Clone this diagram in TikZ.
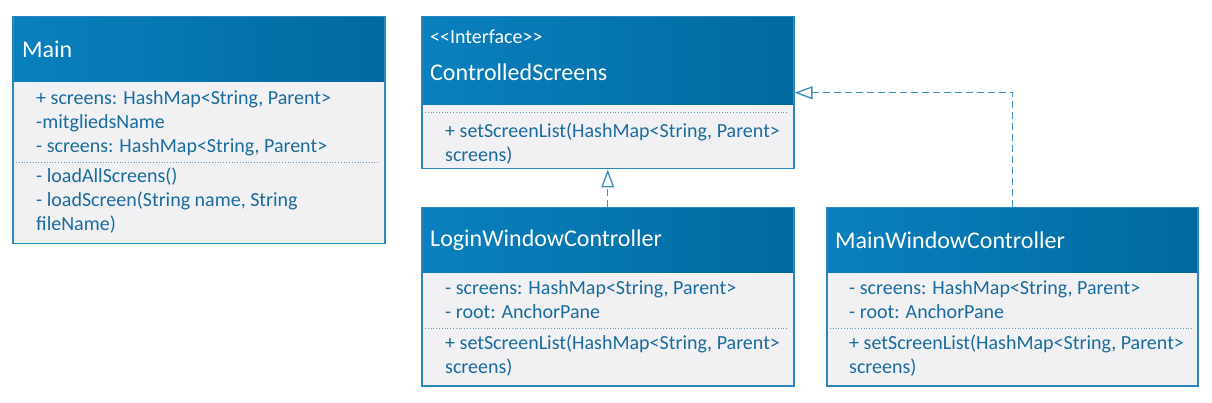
\documentclass[tikz,border=0pt]{standalone}
\usepackage{fontspec}
\setmainfont{Carlito}
\usetikzlibrary{arrows.meta}
\usetikzlibrary{positioning}

\definecolor{hdrlight}{HTML}{0A80BE}
\definecolor{hdrdark}{HTML}{006A9F}
\definecolor{clsborder}{HTML}{2A86BE}
\definecolor{bodygray}{HTML}{F1F1F3}
\definecolor{membertext}{HTML}{1A6C9E}
\definecolor{linkblue}{HTML}{3A92C4}

\tikzset{
  clsbox/.style={rectangle, draw=clsborder, line width=1.5pt, fill=bodygray,
    anchor=north west, inner sep=0pt,
    path picture={\shade[left color=hdrlight, right color=hdrdark]
      (path picture bounding box.north west) rectangle
      ([yshift=-#1pt]path picture bounding box.north east);}},
  clsname/.style={anchor=west, inner sep=0pt, text=white,
    font=\fontsize{24}{28}\selectfont},
  stereo/.style={anchor=west, inner sep=0pt, text=white,
    font=\fontsize{20}{24}\selectfont},
  members/.style={anchor=north west, inner sep=0pt, align=left, text=membertext,
    font=\fontsize{20}{24}\selectfont},
  sepline/.style={draw=membertext!70, line width=0.8pt, dotted},
  realize/.style={draw=linkblue, line width=1.4pt, dash pattern=on 7pt off 4pt,
    -{Triangle[open, length=18pt, width=13pt]}}
}

\begin{document}
\begin{tikzpicture}[x=1pt,y=1pt]
\useasboundingbox (0,0) rectangle (1212,-403);

% Main
\node[clsbox=65, minimum width=372, minimum height=227] (main) at (12,-16) {};
\node[clsname] (mainName) at (22,-49) {Main};
\node[members] (mainAttr) at (36,-90) {+ screens: HashMap<String, Parent>\\-mitgliedsName\\- screens: HashMap<String, Parent>};
\draw[sepline] (16,-162) -- (380,-162);
\node[members] (mainOps) at (36,-168) {- loadAllScreens()\\- loadScreen(String name, String\\fileName)};

% ControlledScreens
\node[clsbox=88, minimum width=372, minimum height=152] (cs) at (421,-16) {};
\node[stereo] (csStereo) at (430,-37) {<{}<Interface>{}>};
\node[clsname] (csName) at (430,-72) {ControlledScreens};
\draw[sepline] (425,-112) -- (789,-112);
\node[members] (csOps) at (445,-123) {+ setScreenList(HashMap<String, Parent>\\screens)};

% LoginWindowController
\node[clsbox=65, minimum width=372, minimum height=178] (login) at (421,-207) {};
\node[clsname] (loginName) at (430,-240) {LoginWindowController};
\node[members] (loginAttr) at (445,-280) {- screens: HashMap<String, Parent>\\- root: AnchorPane};
\draw[sepline] (425,-328) -- (789,-328);
\node[members] (loginOps) at (445,-335) {+ setScreenList(HashMap<String, Parent>\\screens)};

% MainWindowController
\node[clsbox=65, minimum width=371, minimum height=178] (mwc) at (826,-207) {};
\node[clsname] (mwcName) at (835,-240) {MainWindowController};
\node[members] (mwcAttr) at (849,-280) {- screens: HashMap<String, Parent>\\- root: AnchorPane};
\draw[sepline] (830,-328) -- (1193,-328);
\node[members] (mwcOps) at (849,-335) {+ setScreenList(HashMap<String, Parent>\\screens)};

% realizations
\draw[realize] (login.north) -- (cs.south);
\draw[realize] (mwc.north) |- (cs.east);

\end{tikzpicture}
\end{document}
